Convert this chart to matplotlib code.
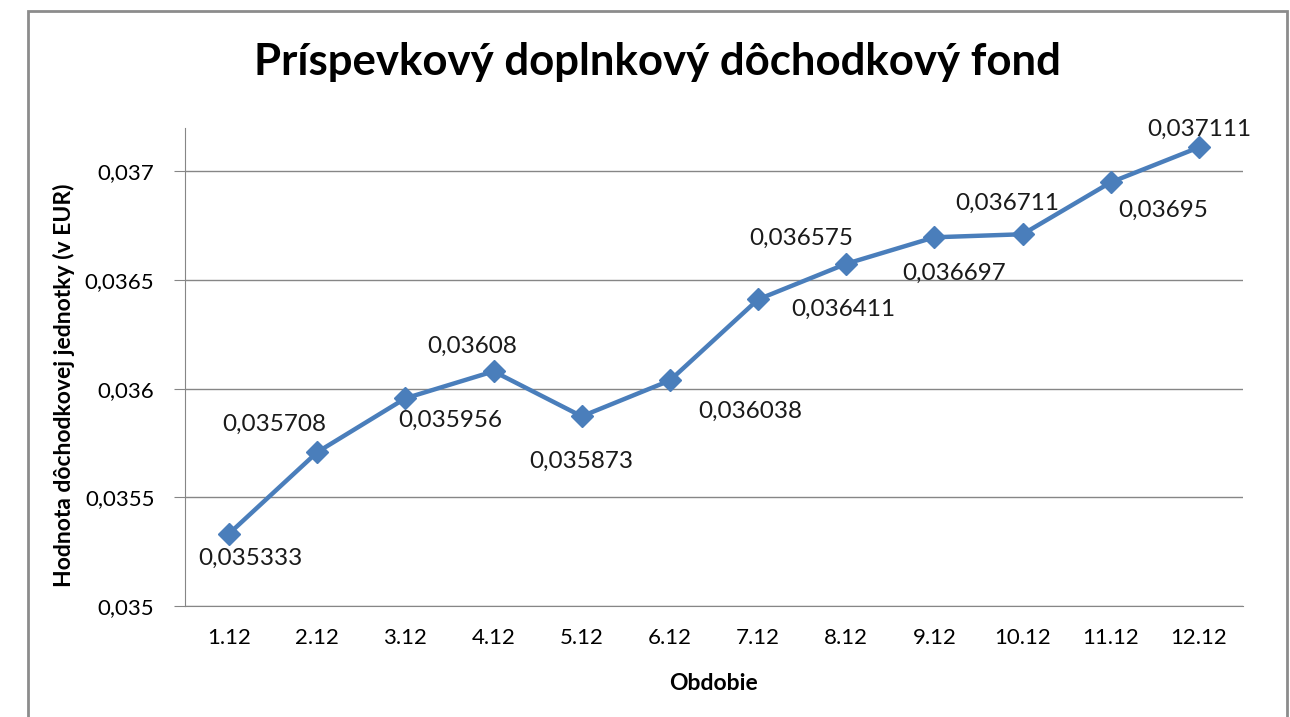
import matplotlib
matplotlib.use('Agg')
import matplotlib.pyplot as plt
from matplotlib.patches import Rectangle

periods = ['1.12', '2.12', '3.12', '4.12', '5.12', '6.12',
           '7.12', '8.12', '9.12', '10.12', '11.12', '12.12']
values = [0.035333, 0.035708, 0.035956, 0.03608, 0.035873, 0.036038,
          0.036411, 0.036575, 0.036697, 0.036711, 0.03695, 0.037111]
labels = ['0,035333', '0,035708', '0,035956', '0,03608', '0,035873', '0,036038',
          '0,036411', '0,036575', '0,036697', '0,036711', '0,03695', '0,037111']
yticks = [0.035, 0.0355, 0.036, 0.0365, 0.037]
ytick_labels = ['0,035', '0,0355', '0,036', '0,0365', '0,037']

# label offsets in pixels (dx, dy) from the marker, as placed in the original
offsets_px = [(21, -25), (-43, 28), (45, -22), (-21, 25), (0, -45), (80, -31),
              (85, -10), (-45, 25), (20, -36), (-15, 31), (52, -28), (0, 18)]

plt.rcParams['font.family'] = ['Lato', 'DejaVu Sans']

W, H = 1290, 717
fig = plt.figure(figsize=(W / 100, H / 100), dpi=100)
ax = fig.add_axes([185 / W, 1 - 606 / H, (1243 - 185) / W, (606 - 128) / H])

# chart frame
fig.patches.append(Rectangle((28 / W, -0.05), (1287 - 28) / W, 1.05 - 11 / H,
                             transform=fig.transFigure, fill=False,
                             edgecolor='#8c8c8c', linewidth=2))

color = '#4a7ebb'
x = list(range(len(periods)))
ax.plot(x, values, color=color, linewidth=3.2, marker='D', markersize=11,
        markerfacecolor=color, markeredgecolor=color, zorder=3)

for xi, v, lab, (dx, dy) in zip(x, values, labels, offsets_px):
    ax.annotate(lab, (xi, v), xytext=(dx * 0.72, dy * 0.72), textcoords='offset points',
                ha='center', va='center', fontsize=17.5, color='#1a1a1a')

ax.set_xlim(-0.5, len(periods) - 0.5)
ax.set_ylim(0.035, 0.0372)
ax.set_xticks(x)
ax.set_xticklabels(periods, fontsize=16)
ax.set_yticks(yticks)
ax.set_yticklabels(ytick_labels, fontsize=16)

ax.grid(axis='y', color='#868686', linewidth=1)
ax.set_axisbelow(True)
for s in ['top', 'right']:
    ax.spines[s].set_visible(False)
ax.spines['left'].set_color('#868686')
ax.spines['bottom'].set_color('#868686')
ax.tick_params(axis='y', length=8, color='#868686', pad=14)
ax.tick_params(axis='x', length=0, pad=16)

ax.set_xlabel('Obdobie', fontsize=16.5, fontweight='bold', labelpad=18)
ax.set_ylabel('Hodnota dôchodkovej jednotky (v EUR)', fontsize=16.5,
              fontweight='bold')
ax.yaxis.set_label_coords(-0.104, 0.462)

fig.text(657 / W, 1 - 62 / H, 'Príspevkový doplnkový dôchodkový fond',
         ha='center', va='center', fontsize=31.5, fontweight='bold')

fig.savefig('out.png', dpi=100)
